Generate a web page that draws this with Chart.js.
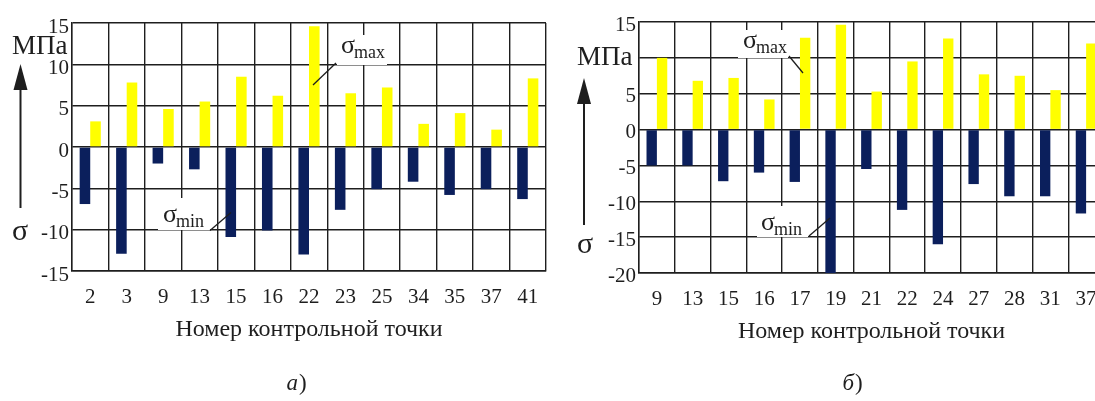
<!DOCTYPE html>
<html>
<head>
<meta charset="utf-8">
<script src="https://cdn.jsdelivr.net/npm/chart.js@4/dist/chart.umd.min.js"></script>
<style>
  html, body { margin: 0; padding: 0; background: #fff; overflow: hidden; }
  body { width: 1095px; height: 401px; position: relative; }
  canvas { position: absolute; top: 0; }
  #chartA { left: 0; }
  #chartB { left: 560px; }
</style>
</head>
<body>
<canvas id="chartA" width="560" height="401"></canvas>
<canvas id="chartB" width="560" height="401"></canvas>
<script>
// --- data ---
const pointsA = ['2', '3', '9', '13', '15', '16', '22', '23', '25', '34', '35', '37', '41'];
const sigmaMinA = [-6.9, -12.9, -2.0, -2.7, -10.9, -10.1, -13.0, -7.6, -5.1, -4.2, -5.8, -5.1, -6.3];
const sigmaMaxA = [3.1, 7.8, 4.6, 5.5, 8.5, 6.2, 14.6, 6.5, 7.2, 2.8, 4.1, 2.1, 8.3];

const pointsB = ['9', '13', '15', '16', '17', '19', '21', '22', '24', '27', '28', '31', '37'];
const sigmaMinB = [-5.0, -5.0, -7.2, -6.0, -7.3, -20, -5.5, -11.2, -16.0, -7.6, -9.3, -9.3, -11.7];
const sigmaMaxB = [10.0, 6.8, 7.2, 4.2, 12.8, 14.6, 5.3, 9.5, 12.7, 7.7, 7.5, 5.5, 12.0];

const axisTitle = 'Номер контрольной точки';
const navy = '#0b1f5c';
const yellow = '#ffff00';
const ink = '#1e1e1e';
const serif = '"Liberation Serif", "Times New Roman", serif';

// σ label with a subscript, on a white patch, and a leader line to a bar
function sigmaLabel(ctx, a) {
  ctx.fillStyle = '#fff';
  ctx.fillRect(a.box[0], a.box[1], a.box[2], a.box[3]);
  ctx.fillStyle = ink;
  ctx.textAlign = 'left';
  ctx.textBaseline = 'alphabetic';
  ctx.font = '26px ' + serif;
  ctx.fillText('σ', a.x, a.y);
  ctx.font = '18px ' + serif;
  ctx.fillText(a.sub, a.x + 13, a.y + 5);
  ctx.strokeStyle = ink;
  ctx.lineWidth = 1.3;
  ctx.beginPath();
  ctx.moveTo(a.line[0], a.line[1]);
  ctx.lineTo(a.line[2], a.line[3]);
  ctx.stroke();
}

const decorations = {
  id: 'decorations',
  afterDraw(chart, args, o) {
    const ctx = chart.ctx;
    ctx.save();
    o.labels.forEach(a => sigmaLabel(ctx, a));

    // unit and arrow on the left
    ctx.fillStyle = ink;
    ctx.textAlign = 'left';
    ctx.textBaseline = 'alphabetic';
    ctx.font = '27px ' + serif;
    ctx.fillText('МПа', o.unit[0], o.unit[1]);
    ctx.font = '30px ' + serif;
    ctx.fillText('σ', o.sigma[0], o.sigma[1]);

    const [ax, y0, tip] = o.arrow;
    ctx.strokeStyle = ink;
    ctx.lineWidth = 2;
    ctx.beginPath();
    ctx.moveTo(ax, y0);
    ctx.lineTo(ax, tip + 20);
    ctx.stroke();
    ctx.beginPath();
    ctx.moveTo(ax, tip);
    ctx.lineTo(ax - 7, tip + 26);
    ctx.lineTo(ax + 7, tip + 26);
    ctx.closePath();
    ctx.fill();

    // caption a) / б)
    const cx = o.caption[0], cy = o.caption[1];
    ctx.font = 'italic 23px ' + serif;
    const w1 = ctx.measureText(o.caption[2]).width;
    ctx.font = '23px ' + serif;
    const w2 = ctx.measureText(')').width;
    const x0 = cx - (w1 + w2) / 2;
    ctx.font = 'italic 23px ' + serif;
    ctx.fillText(o.caption[2], x0, cy);
    ctx.font = '23px ' + serif;
    ctx.fillText(')', x0 + w1 + 1, cy);
    ctx.restore();
  }
};

function makeChart(id, labels, mins, maxs, yMin, yMax, yWidth, pad, hideTick, labelShift, deco) {
  return new Chart(id, {
    type: 'bar',
    data: {
      labels: labels,
      datasets: [
        { label: 'σmin', data: mins, backgroundColor: navy },
        { label: 'σmax', data: maxs, backgroundColor: yellow }
      ]
    },
    options: {
      responsive: false,
      animation: false,
      devicePixelRatio: 1,
      layout: { padding: pad },
      datasets: { bar: { categoryPercentage: 0.58, barPercentage: 1 } },
      plugins: {
        legend: { display: false },
        tooltip: { enabled: false },
        decorations: deco
      },
      scales: {
        x: {
          grid: { color: ink, lineWidth: 1.4, drawTicks: false, offset: true },
          border: { color: ink, width: 1.4 },
          ticks: { color: ink, padding: 14, font: { family: serif, size: 21 }, maxRotation: 0, autoSkip: false },
          title: { display: true, text: axisTitle, color: ink, padding: 0, font: { family: serif, size: 24 } },
          afterFit(scale) { scale.height = 73; }
        },
        y: {
          min: yMin,
          max: yMax,
          grid: { color: ink, lineWidth: 1.4, drawTicks: false },
          border: { color: ink, width: 1.4 },
          ticks: {
            stepSize: 5,
            color: ink,
            padding: 3,
            labelOffset: labelShift,
            font: { family: serif, size: 21 },
            callback: v => (v === hideTick ? '' : String(v))
          },
          afterFit(scale) { scale.width = yWidth; }
        }
      }
    },
    plugins: [decorations]
  });
}

makeChart('chartA', pointsA, sigmaMinA, sigmaMaxA, -15, 15, 72,
  { left: 0, right: 14, top: 23, bottom: 57 }, null, 4,
  {
    labels: [
      { sub: 'max', x: 341, y: 53, box: [337, 35, 50, 30], line: [336, 63, 313, 85] },
      { sub: 'min', x: 163, y: 222, box: [158, 198, 52, 32], line: [210, 230.5, 231, 212.5] }
    ],
    unit: [12, 54],
    sigma: [12, 240],
    arrow: [20.5, 208, 64],
    caption: [296, 390, 'а']
  });

makeChart('chartB', pointsB, sigmaMinB, sigmaMaxB, -20, 15, 79,
  { left: 0, right: 16, top: 22, bottom: 55 }, 10, 3,
  {
    labels: [
      { sub: 'max', x: 183, y: 48, box: [178, 30, 50, 28], line: [229, 56, 243, 73] },
      { sub: 'min', x: 201, y: 230, box: [197, 206, 51, 31], line: [249, 236, 270, 218] }
    ],
    unit: [17, 65],
    sigma: [17, 253],
    arrow: [24, 225, 78],
    caption: [292, 390, 'б']
  });
</script>
</body>
</html>
